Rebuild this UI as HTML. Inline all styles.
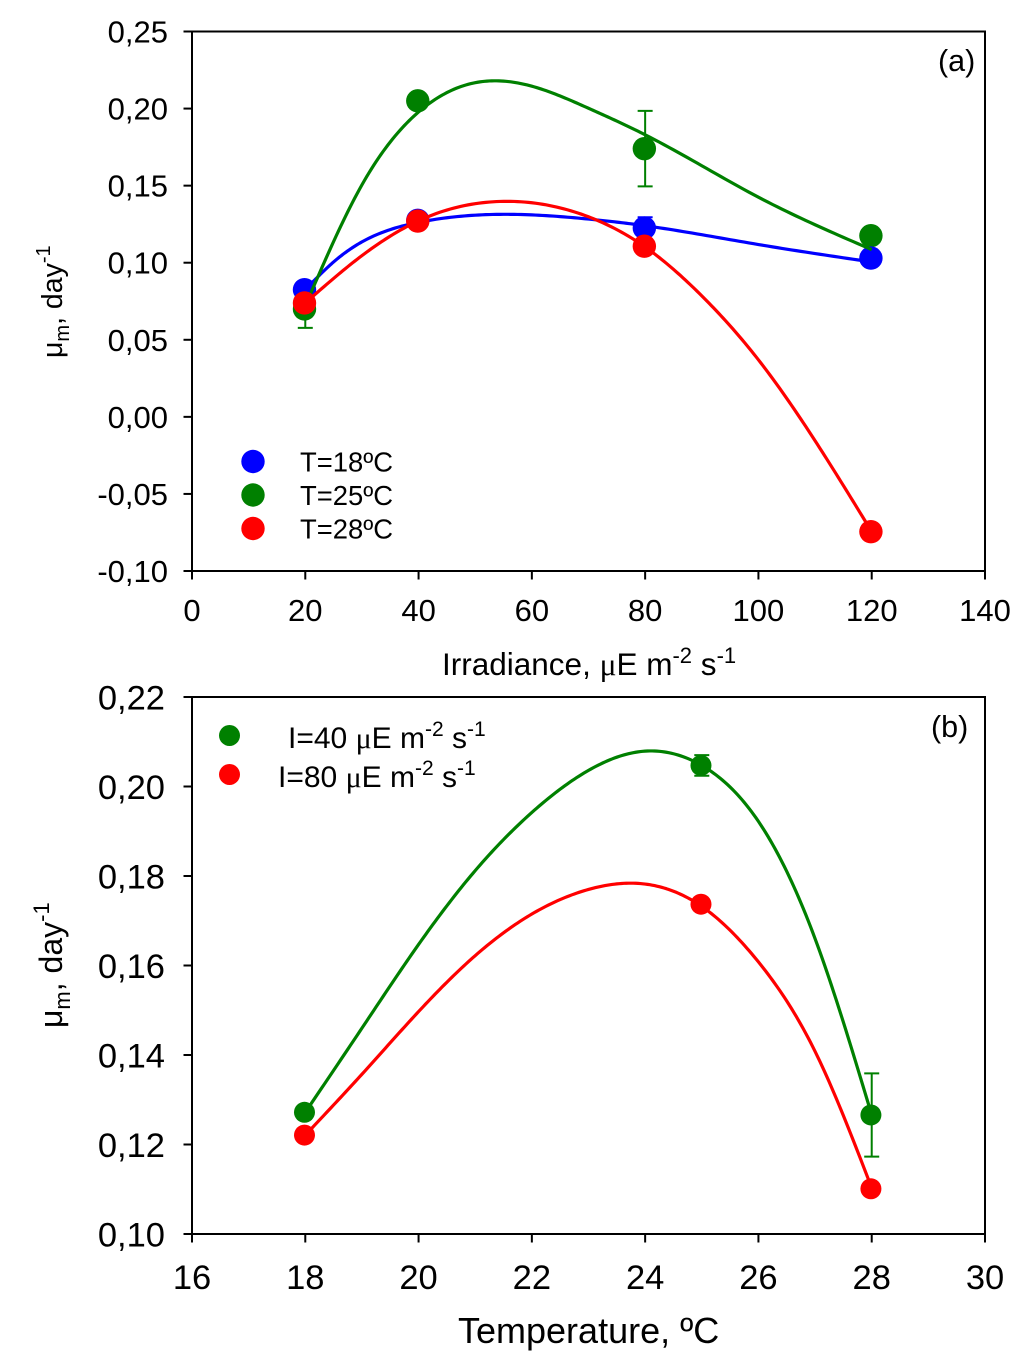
<!DOCTYPE html>
<html>
<head>
<meta charset="utf-8">
<title>Growth rate charts</title>
<style>
html,body{margin:0;padding:0;background:#fff;}
svg{display:block;}
text{font-family:"Liberation Sans",sans-serif;fill:#000;}
.mu{font-family:"Liberation Serif",serif;}
</style>
</head>
<body>
<svg id="chart" xmlns="http://www.w3.org/2000/svg" width="1024" height="1369" viewBox="0 0 1024 1369">
  <rect x="0" y="0" width="1024" height="1369" fill="#fff"/>
  <g id="panelA"></g>
  <g id="panelB"></g>

  <text x="938" y="71" font-size="30.5">(a)</text>
  <text x="931" y="737" font-size="30.5">(b)</text>

  <text x="442" y="675" font-size="31.5">Irradiance, <tspan class="mu">μ</tspan>E m<tspan dy="-12" font-size="22">-2</tspan><tspan dy="12"> s</tspan><tspan dy="-12" font-size="22">-1</tspan></text>
  <text transform="translate(62,358) rotate(-90)" font-size="28.5">μ<tspan dy="7" font-size="20">m</tspan><tspan dy="-7">, day</tspan><tspan dy="-12" font-size="20">-1</tspan></text>

  <text x="458" y="1343" font-size="36">Temperature, ºC</text>
  <text transform="translate(62,1028) rotate(-90)" font-size="32">μ<tspan dy="8" font-size="22">m</tspan><tspan dy="-8">, day</tspan><tspan dy="-13" font-size="22">-1</tspan></text>

  <g>
    <circle cx="253" cy="461.5" r="11.7" fill="#0000ff"/>
    <text x="300" y="471.5" font-size="27.4">T=18ºC</text>
    <circle cx="253" cy="495" r="11.7" fill="#008000"/>
    <text x="300" y="505" font-size="27.4">T=25ºC</text>
    <circle cx="253" cy="528.5" r="11.7" fill="#ff0000"/>
    <text x="300" y="538.5" font-size="27.4">T=28ºC</text>
  </g>
  <g>
    <circle cx="229.5" cy="735.5" r="10.5" fill="#008000"/>
    <text x="288" y="748" font-size="30">I=40 <tspan class="mu">μ</tspan>E m<tspan dy="-12" font-size="21">-2</tspan><tspan dy="12"> s</tspan><tspan dy="-12" font-size="21">-1</tspan></text>
    <circle cx="229.5" cy="774.5" r="10.5" fill="#ff0000"/>
    <text x="278" y="787" font-size="30">I=80 <tspan class="mu">μ</tspan>E m<tspan dy="-12" font-size="21">-2</tspan><tspan dy="12"> s</tspan><tspan dy="-12" font-size="21">-1</tspan></text>
  </g>
</svg>
<script>
// ---- Panel (a) data ----
var aXTicks = [0, 20, 40, 60, 80, 100, 120, 140];
var aYTicks = [0.25, 0.20, 0.15, 0.10, 0.05, 0.00, -0.05, -0.10];
var aYLabels = ["0,25", "0,20", "0,15", "0,10", "0,05", "0,00", "-0,05", "-0,10"];
var irradiance = [20, 40, 80, 120];
var rate18 = [0.0825, 0.1275, 0.1225, 0.103];
var err18 = [0, 0.002, 0.007, 0];
var rate25 = [0.070, 0.205, 0.174, 0.1175];
var err25 = [0.0123, 0, 0.0245, 0];
var rate28 = [0.0739, 0.127, 0.1107, -0.0745];
var err28 = [0, 0, 0, 0];
var fit18X = [20, 25, 30, 40, 55, 70, 80, 100, 120];
var fit18Y = [0.0825, 0.1005, 0.1135, 0.1262, 0.1314, 0.1283, 0.1240, 0.1118, 0.1005];
var fit25X = [20, 30, 40, 50, 60, 70, 80, 100, 120];
var fit25Y = [0.072, 0.1505, 0.1978, 0.2168, 0.2145, 0.2002, 0.183, 0.1425, 0.1085];
var fit28X = [20, 30, 40, 55, 70, 80, 90, 100, 110, 120];
var fit28Y = [0.0739, 0.1046, 0.1272, 0.1398, 0.1298, 0.1102, 0.0785, 0.037, -0.0155, -0.0745];

// ---- Panel (b) data ----
var bXTicks = [16, 18, 20, 22, 24, 26, 28, 30];
var bYTicks = [0.22, 0.20, 0.18, 0.16, 0.14, 0.12, 0.10];
var bYLabels = ["0,22", "0,20", "0,18", "0,16", "0,14", "0,12", "0,10"];
var temperature = [18, 25, 28];
var rateI40 = [0.1272, 0.2047, 0.1266];
var errI40 = [0, 0.0023, 0.0093];
var rateI80 = [0.1221, 0.1737, 0.1101];
var errI80 = [0, 0, 0];
var fitI40X = [18, 19, 20, 21, 22, 23, 24, 25, 26, 27, 28];
var fitI40Y = [0.1272, 0.1460, 0.1647, 0.1812, 0.1942, 0.2036, 0.2079, 0.2047, 0.1922, 0.1660, 0.1266];
var fitI80X = [18, 19, 20, 21, 22, 23, 24, 25, 26, 27, 28];
var fitI80Y = [0.1221, 0.1357, 0.1497, 0.1622, 0.1715, 0.1770, 0.1782, 0.1732, 0.1608, 0.1408, 0.1103];

var SVGNS = "http://www.w3.org/2000/svg";
var BLUE = "#0000ff", GREEN = "#008000", RED = "#ff0000";

function make(parent, tag, attrs, txt) {
  var el = document.createElementNS(SVGNS, tag);
  for (var k in attrs) el.setAttribute(k, attrs[k]);
  if (txt !== undefined) el.textContent = txt;
  parent.appendChild(el);
  return el;
}
function scale(d0, d1, r0, r1) {
  return function (v) { return r0 + (v - d0) * (r1 - r0) / (d1 - d0); };
}
// Natural cubic spline through the knots, evaluated to a fine polyline.
function splinePath(xs, ys, sx, sy) {
  var n = xs.length, i;
  var h = [], a = [], b = [], c = [], r = [], m = new Array(n).fill(0);
  for (i = 0; i < n - 1; i++) h[i] = xs[i + 1] - xs[i];
  for (i = 1; i < n - 1; i++) {
    a[i] = h[i - 1];
    b[i] = 2 * (h[i - 1] + h[i]);
    c[i] = h[i];
    r[i] = 6 * ((ys[i + 1] - ys[i]) / h[i] - (ys[i] - ys[i - 1]) / h[i - 1]);
  }
  for (i = 2; i < n - 1; i++) {
    var w = a[i] / b[i - 1];
    b[i] -= w * c[i - 1];
    r[i] -= w * r[i - 1];
  }
  for (i = n - 2; i >= 1; i--) {
    m[i] = (r[i] - (i < n - 2 ? c[i] * m[i + 1] : 0)) / b[i];
  }
  var d = "M" + sx(xs[0]).toFixed(2) + " " + sy(ys[0]).toFixed(2);
  for (i = 0; i < n - 1; i++) {
    for (var s = 1; s <= 24; s++) {
      var t = s / 24, u = 1 - t, hh = h[i];
      var x = xs[i] + t * hh;
      var y = u * ys[i] + t * ys[i + 1] + ((u * u * u - u) * m[i] + (t * t * t - t) * m[i + 1]) * hh * hh / 6;
      d += " L" + sx(x).toFixed(2) + " " + sy(y).toFixed(2);
    }
  }
  return d;
}
function drawAxes(g, cfg) {
  var sx = cfg.sx, sy = cfg.sy, el;
  el = make(g, "rect", {x: cfg.left, y: cfg.top, width: cfg.right - cfg.left, height: cfg.bottom - cfg.top, fill: "none", stroke: "#000", "stroke-width": 2});
  
  
  cfg.xTicks.forEach(function (t) {
    var x = sx(t);
    var tick = make(g, "line", {x1: x, x2: x, y1: cfg.bottom, y2: cfg.bottom + 8.5, stroke: "#000", "stroke-width": 2});
    
    
    var lab = make(g, "text", {x: x, y: cfg.xLabelY, "text-anchor": "middle", "font-size": cfg.fontSize}, String(t));
    
    
  });
  cfg.yTicks.forEach(function (t, i) {
    var y = sy(t);
    var tick = make(g, "line", {x1: cfg.left - 8.5, x2: cfg.left, y1: y, y2: y, stroke: "#000", "stroke-width": 2});
    
    
    var lab = make(g, "text", {x: cfg.yLabelX, y: y + cfg.yLabelDy, "text-anchor": "end", "font-size": cfg.fontSize}, cfg.yLabels[i]);
    
    
  });
}
function drawCurve(g, name, xs, ys, sx, sy, color) {
  var c = make(g, "path", {d: splinePath(xs, ys, sx, sy), fill: "none", stroke: color, "stroke-width": 3.2, "stroke-linejoin": "round"});
  
  
}
function drawPoints(g, name, xs, ys, errs, sx, sy, color, r) {
  xs.forEach(function (x, i) {
    var px = sx(x), py = sy(ys[i]);
    if (errs[i] > 0) {
      var hi = sy(ys[i] + errs[i]), lo = sy(ys[i] - errs[i]);
      var bar = make(g, "path", {
        d: "M" + px + " " + hi + "V" + lo + "M" + (px - 7.5) + " " + hi + "H" + (px + 7.5) + "M" + (px - 7.5) + " " + lo + "H" + (px + 7.5),
        fill: "none", stroke: color, "stroke-width": 2
      });
      
      
    }
    var m = make(g, "circle", {cx: px - 0.8, cy: py, r: r, fill: color});
    
    
  });
}

// Panel (a)
var gA = document.getElementById("panelA");
var ax = scale(0, 140, 192, 985);
var ay = scale(-0.10, 0.25, 571, 31.5);
drawAxes(gA, {sx: ax, sy: ay, left: 192, right: 985, top: 31.5, bottom: 571, xTicks: aXTicks, yTicks: aYTicks, yLabels: aYLabels, xLabelY: 621, yLabelX: 168, yLabelDy: 11, fontSize: 31});
drawPoints(gA, "t25", irradiance, rate25, err25, ax, ay, GREEN, 11.7);
drawPoints(gA, "t18", irradiance, rate18, err18, ax, ay, BLUE, 11.7);
drawCurve(gA, "t18", fit18X, fit18Y, ax, ay, BLUE);
drawCurve(gA, "t25", fit25X, fit25Y, ax, ay, GREEN);
drawCurve(gA, "t28", fit28X, fit28Y, ax, ay, RED);
drawPoints(gA, "t28", irradiance, rate28, err28, ax, ay, RED, 11.7);

// Panel (b)
var gB = document.getElementById("panelB");
var bx = scale(16, 30, 192, 985);
var by = scale(0.10, 0.22, 1234, 697);
drawAxes(gB, {sx: bx, sy: by, left: 192, right: 985, top: 697, bottom: 1234, xTicks: bXTicks, yTicks: bYTicks, yLabels: bYLabels, xLabelY: 1289, yLabelX: 165, yLabelDy: 12.5, fontSize: 34.5});
drawCurve(gB, "i40", fitI40X, fitI40Y, bx, by, GREEN);
drawPoints(gB, "i40", temperature, rateI40, errI40, bx, by, GREEN, 10.5);
drawCurve(gB, "i80", fitI80X, fitI80Y, bx, by, RED);
drawPoints(gB, "i80", temperature, rateI80, errI80, bx, by, RED, 10.5);
</script>
</body>
</html>
